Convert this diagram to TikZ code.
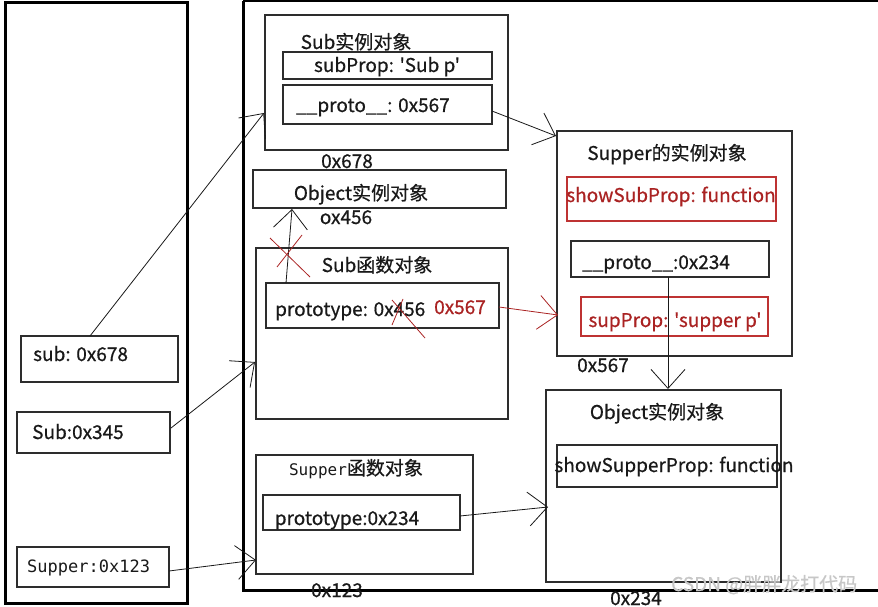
\documentclass[tikz,border=0pt]{standalone}
\usepackage{fontspec}
\newfontfamily\cjkf{Noto Sans CJK SC}[FakeBold=0.6]
\newfontfamily\monof{DejaVu Sans Mono}
\usetikzlibrary{arrows.meta,fit}
\definecolor{boxc}{RGB}{45,45,45}
\definecolor{txtc}{RGB}{25,25,25}
\definecolor{redc}{RGB}{170,35,35}
\definecolor{redline}{RGB}{190,50,50}
\begin{document}
\begin{tikzpicture}[x=1pt,y=-1pt,
  box/.style={draw=boxc, line width=1.1pt, inner sep=0pt},
  rbox/.style={draw=redline, line width=1.1pt, inner sep=0pt},
  txt/.style={font=\cjkf\fontsize{19}{22}\selectfont, text=txtc, inner sep=0pt, anchor=base},
  ltxt/.style={txt, anchor=base west},
  rtxt/.style={txt, text=redc},
  mtxt/.style={font=\monof\fontsize{17}{20}\selectfont, text=txtc, inner sep=0pt, anchor=base west},
  arr/.style={draw=txtc, line width=0.8pt, -{Straight Barb[length=19pt,width=34pt,line width=0.8pt]}},
  rarr/.style={draw=redc, line width=0.8pt, -{Straight Barb[length=19pt,width=34pt,line width=0.8pt]}},
  cross/.style={draw=redc, line width=0.8pt}
]
\useasboundingbox (0,0) rectangle (878,607);
\fill[white] (0,0) rectangle (878,607);

% stack frame
\node[draw=black, line width=3pt, inner sep=0pt, fit={(5,3) (187,603)}] (stack) {};
% heap frame
\coordinate (htr) at (878,1);
\coordinate (htl) at (243,1);
\coordinate (hbl) at (243,590);
\coordinate (hbr) at (878,590);
\draw[black, line width=1.5pt] (htl) -- (htr);
\draw[black, line width=3pt] (htl) -- (hbl) -- (hbr);

% stack entries
\node[box, fit={(21,336) (178,382)}] (sub) {};
\node[ltxt] (subt) at (33,361) {sub: 0x678};
\node[box, fit={(17,412) (170,453)}] (Sub) {};
\node[ltxt] (Subt) at (32,439) {Sub:0x345};
\node[box, fit={(17,547) (169,587)}] (Sup) {};
\node[mtxt] (Supt) at (27,572) {Supper:0x123};

% Sub instance
\node[box, fit={(265,15) (508,150)}] (subinst) {};
\node[txt] (subinstt) at (356,49) {Sub实例对象};
\node[box, fit={(283,52) (492,79)}] (subprop) {};
\node[txt] (subpropt) at (387,72) {subProp: 'Sub p'};
\node[box, fit={(283,85) (492,124)}] (subproto) {};
\node[ltxt] (subprotot) at (296,112) {\_\_proto\_\_: 0x567};
\node[txt] (a678) at (347,168) {0x678};

% Object instance (top)
\node[box, fit={(253,170) (506,208)}] (obj1) {};
\node[txt] (obj1t) at (361,200) {Object实例对象};
\node[txt] (a456) at (346,224) {ox456};

% Sub function object
\node[box, fit={(256,248) (508,419)}] (subfn) {};
\node[txt] (subfnt) at (377,272) {Sub函数对象};
\node[box, fit={(266,283) (499,328)}] (subptype) {};
\node[ltxt] (subptypet) at (275,316) {prototype: 0x456};
\node[rtxt, anchor=base west] (r567) at (434,314) {0x567};

% Supper instance
\node[box, fit={(557,131) (792,356)}] (supinst) {};
\node[txt] (supinstt) at (667,160) {Supper的实例对象};
\node[rbox, fit={(567,177) (776,221)}] (showsub) {};
\node[rtxt] (showsubt) at (671,202) {showSubProp: function};
\node[box, fit={(571,241) (769,277)}] (supproto) {};
\node[txt] (supprotot) at (656,269) {\_\_proto\_\_:0x234};
\node[rbox, fit={(581,297) (768,336)}] (supprop) {};
\node[rtxt] (supropt) at (675,327) {supProp: 'supper p'};
\node[txt] (b567) at (603,372) {0x567};

% Object instance (bottom)
\node[box, fit={(546,390) (781,582)}] (obj2) {};
\node[txt] (obj2t) at (657,419) {Object实例对象};
\node[box, fit={(557,445) (777,487)}] (showsupper) {};
\node[txt] (showsuppert) at (674,472) {showSupperProp: function};
\node[txt] (b234) at (636,605) {0x234};

% Supper function object
\node[box, fit={(256,455) (473,574)}] (supfn) {};
\node[txt] (supfnt) at (356,475) {{\monof\fontsize{16}{19}\selectfont Supper}函数对象};
\node[box, fit={(263,495) (460,530)}] (supptype) {};
\node[txt] (supptypet) at (347,525) {prototype:0x234};
\node[txt] (a123) at (337,597) {0x123};

% watermark
\node[txt, text=black!22, anchor=base west] (wm) at (671,591) {CSDN @胖胖龙打代码};

% arrow end points
\coordinate (e1) at (264,113);
\coordinate (e2) at (255,362);
\coordinate (e3) at (256,560);
\coordinate (e4) at (556,136);
\coordinate (e5) at (558,315);
\coordinate (e6) at (292,209);
\coordinate (e7) at (668,389);
\coordinate (e8) at (548,507);
\coordinate (s1) at (90,336);
\coordinate (s2) at (171,428);
\coordinate (s3) at (169,571);
\coordinate (s4) at (492,111);
\coordinate (s5) at (499,307);
\coordinate (s6) at (286,283);
\coordinate (s7) at (668,277);
\coordinate (s8) at (460,516);

\draw[arr] (s1) -- (e1);
\draw[arr] (s2) -- (e2);
\draw[arr] (s3) -- (e3);
\draw[arr] (s4) -- (e4);
\draw[rarr] (s5) -- (e5);
\draw[arr] (s6) -- (e6);
\draw[arr] (s7) -- (e7);
\draw[arr] (s8) -- (e8);

% red crosses
\coordinate (x1a) at (270,238); \coordinate (x1b) at (310,277);
\coordinate (x1c) at (302,235); \coordinate (x1d) at (277,267);
\draw[cross] (x1a) -- (x1b);
\draw[cross] (x1c) -- (x1d);
\coordinate (x2a) at (392,300); \coordinate (x2b) at (425,338);
\coordinate (x2c) at (403,299); \coordinate (x2d) at (392,325);
\draw[cross] (x2a) -- (x2b);
\draw[cross] (x2c) -- (x2d);
\end{tikzpicture}
\end{document}
